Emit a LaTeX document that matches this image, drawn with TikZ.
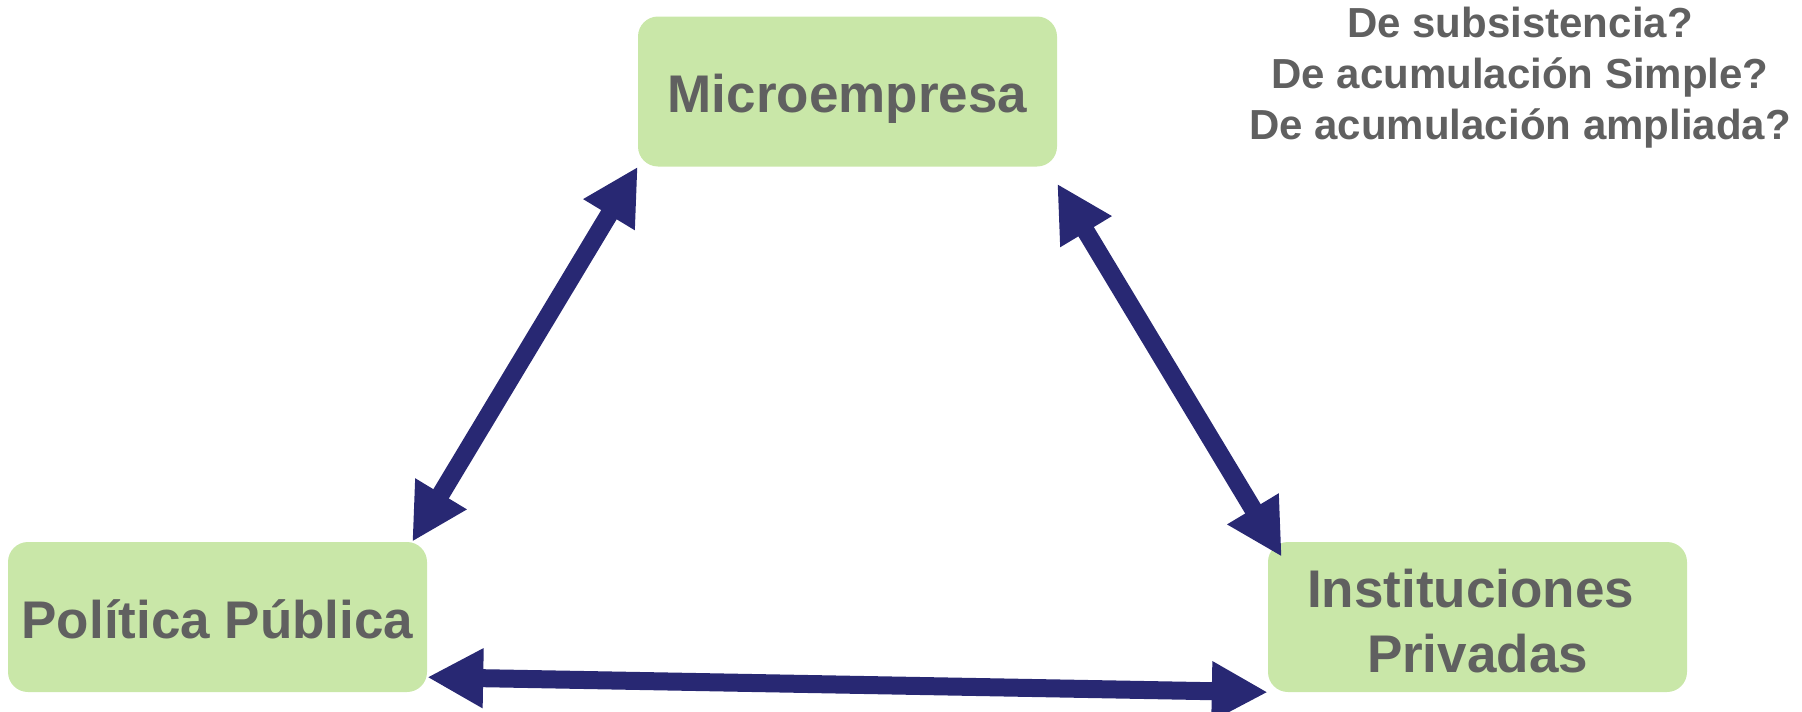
\documentclass[tikz,border=0pt]{standalone}
\usepackage{fontspec}
\setmainfont{Liberation Sans}
\usetikzlibrary{arrows.meta,calc}
\definecolor{boxfill}{HTML}{C9E7A8}
\definecolor{txtgray}{HTML}{606060}
\definecolor{arrblue}{HTML}{282873}
\tikzset{
  greenbox/.style={fill=boxfill, draw=none, rounded corners=20pt, minimum width=419pt, minimum height=150pt, inner sep=0pt, text=txtgray, font=\fontsize{53}{65}\selectfont\bfseries, align=center},
  dblarrow/.style={draw=arrblue, line width=18pt, {Triangle[length=56pt,width=56pt]}-{Triangle[length=56pt,width=56pt]}}
}
\begin{document}
\begin{tikzpicture}[x=1pt,y=-1pt]
\useasboundingbox (0,0) rectangle (1802,712);
\node[greenbox] (micro) at (847.5,91.5) {\raisebox{-7pt}[\height][\depth]{Microempresa}};
\node[greenbox] (pol) at (217.5,617) {\raisebox{-2pt}[\height][\depth]{Política Pública}};
\node[greenbox] (inst) at (1477.5,617) {\raisebox{-10pt}[\height][\depth]{\begin{tabular}{@{}c@{}}Instituciones\hspace*{14pt}\\Privadas\end{tabular}}};
\node[text=txtgray, font=\fontsize{42}{51}\selectfont\bfseries, align=center, inner sep=0pt] (q) at (1520,78) {De subsistencia?\\De acumulación Simple?\\De acumulación ampliada?};
\draw[dblarrow] (micro.south west) -- ($(pol.north east)+(-15,0)$);
\draw[dblarrow] ($(micro.south east)+(0,17)$) -- ($(inst.north west)+(14,15)$);
\draw[dblarrow] ($(pol.south east)+(0,-15)$) -- (inst.south west);
\end{tikzpicture}
\end{document}
